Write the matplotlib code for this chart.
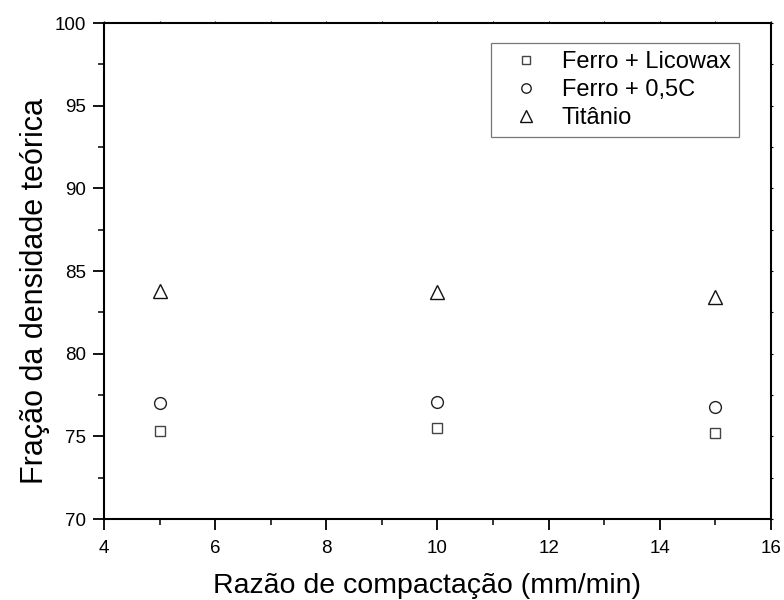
import matplotlib.pyplot as plt
from matplotlib.ticker import MultipleLocator

plt.rcParams['font.family'] = ['Liberation Sans', 'DejaVu Sans']

razao = [5, 10, 15]
ferro_licowax = [75.3, 75.5, 75.2]
ferro_05c = [77.0, 77.1, 76.8]
titanio = [83.8, 83.7, 83.4]

fig = plt.figure(figsize=(7.84, 6.0), dpi=100)
ax = fig.add_axes([104 / 784, 81 / 600, 667 / 784, 496 / 600])

ax.plot(razao, ferro_licowax, 's', ms=7.5, mfc='none', mec='#444444', mew=1.0, label='Ferro + Licowax')
ax.plot(razao, ferro_05c, 'o', ms=8.5, mfc='none', mec='#222222', mew=1.0, label='Ferro + 0,5C')
ax.plot(razao, titanio, '^', ms=10, mfc='none', mec='#111111', mew=1.0, label='Titânio')

ax.set_xlim(4, 16)
ax.set_ylim(70, 100)
ax.xaxis.set_major_locator(MultipleLocator(2))
ax.xaxis.set_minor_locator(MultipleLocator(1))
ax.yaxis.set_major_locator(MultipleLocator(5))
ax.yaxis.set_minor_locator(MultipleLocator(2.5))

for s in ax.spines.values():
    s.set_linewidth(1.5)
ax.tick_params(which='major', direction='out', length=8, width=1.3, labelsize=13.5, pad=5)
ax.tick_params(axis='x', which='major', pad=7)
ax.tick_params(which='minor', direction='out', length=4.3, width=1.1)

# small ticks on the top and right frame
top = ax.secondary_xaxis('top')
top.xaxis.set_major_locator(MultipleLocator(2))
top.xaxis.set_minor_locator(MultipleLocator(1))
top.tick_params(which='both', direction='out', length=1.5, width=0.8, labeltop=False)
top.spines['top'].set_visible(False)
right = ax.secondary_yaxis('right')
right.yaxis.set_major_locator(MultipleLocator(5))
right.yaxis.set_minor_locator(MultipleLocator(2.5))
right.tick_params(which='both', direction='out', length=1.5, width=0.8, labelright=False)
right.spines['right'].set_visible(False)

ax.set_xlabel('Razão de compactação (mm/min)', fontsize=20.5)
ax.set_ylabel('Fração da densidade teórica', fontsize=22)
ax.xaxis.set_label_coords(0.484, -0.108)
ax.yaxis.set_label_coords(-0.081, 0.46)

leg = ax.legend(loc='upper right', bbox_to_anchor=(0.952, 0.960), borderaxespad=0,
                fontsize=17, frameon=True, fancybox=False, edgecolor='#555555',
                handletextpad=0.35, borderpad=0.35, labelspacing=0.25,
                handlelength=2.3, markerscale=0.8)
leg.get_frame().set_linewidth(0.9)

fig.savefig('out.png', dpi=100)
